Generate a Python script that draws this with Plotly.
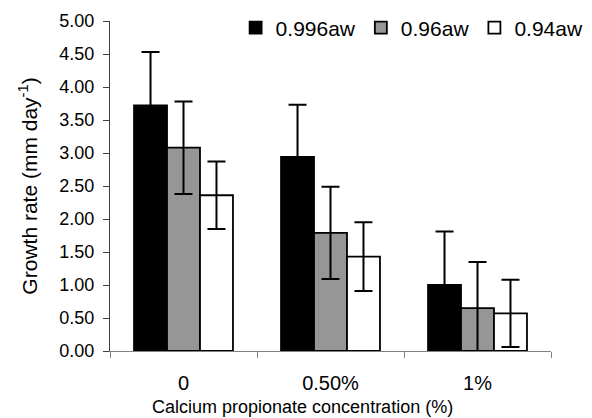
import plotly.graph_objects as go

categories = ["0", "0.50%", "1%"]
series_names = ["0.996aw", "0.96aw", "0.94aw"]
aw_0996 = [3.72, 2.94, 1.00]
aw_0996_err = [0.81, 0.79, 0.81]
aw_096 = [3.08, 1.79, 0.65]
aw_096_err = [0.70, 0.70, 0.70]
aw_094 = [2.36, 1.43, 0.57]
aw_094_err = [0.51, 0.52, 0.51]
y_ticks = [0, 0.5, 1, 1.5, 2, 2.5, 3, 3.5, 4, 4.5, 5]
x_title = "Calcium propionate concentration (%)"
y_title = "Growth rate (mm day<sup>-1</sup>)"

values = [aw_0996, aw_096, aw_094]
errors = [aw_0996_err, aw_096_err, aw_094_err]
fills = ["#000000", "#969696", "#ffffff"]

FONT = "Liberation Sans, Arial, sans-serif"

fig = go.Figure()
for name, v, e, c in zip(series_names, values, errors, fills):
    fig.add_trace(go.Bar(
        x=categories, y=v, name=name,
        marker=dict(color=c, line=dict(color="#000000", width=1.8)),
        error_y=dict(type="data", array=e, visible=True, color="#000000",
                     thickness=2, width=9),
    ))

fig.add_annotation(
    text=x_title, xref="paper", yref="paper", x=0.4365, y=0,
    xanchor="center", yanchor="middle", yshift=-56, showarrow=False,
    font=dict(family=FONT, size=18, color="#000000"),
)

fig.update_layout(
    width=592, height=418,
    margin=dict(l=110, r=41, t=21, b=67, autoexpand=False),
    paper_bgcolor="white", plot_bgcolor="white",
    barmode="group", bargap=0.327, bargroupgap=0,
    font=dict(family=FONT, size=18, color="#000000"),
    showlegend=True,
    legend=dict(orientation="h", xref="container", yref="container",
                x=0.398, xanchor="left", y=0.933, yanchor="middle",
                font=dict(family=FONT, size=21, color="#000000"),
                bgcolor="rgba(0,0,0,0)", borderwidth=0),
    xaxis=dict(
        automargin=False,
        showline=True, linecolor="#808080", linewidth=1,
        ticks="outside", tickson="boundaries", ticklen=6, tickcolor="#808080",
        showgrid=False, zeroline=False,
        tickfont=dict(size=20), ticklabelstandoff=14,
    ),
    yaxis=dict(
        title=dict(text=y_title, font=dict(size=21), standoff=16),
        automargin=False,
        range=[0, 5], tickvals=y_ticks, tickformat=".2f",
        showline=True, linecolor="#404040", linewidth=1,
        ticks="outside", ticklen=6, tickcolor="#404040",
        showgrid=False, zeroline=False,
        tickfont=dict(size=18), ticklabelstandoff=5,
    ),
)

fig.write_html("out.html", config={"displayModeBar": False},
               post_script="document.body.style.margin='0';")
